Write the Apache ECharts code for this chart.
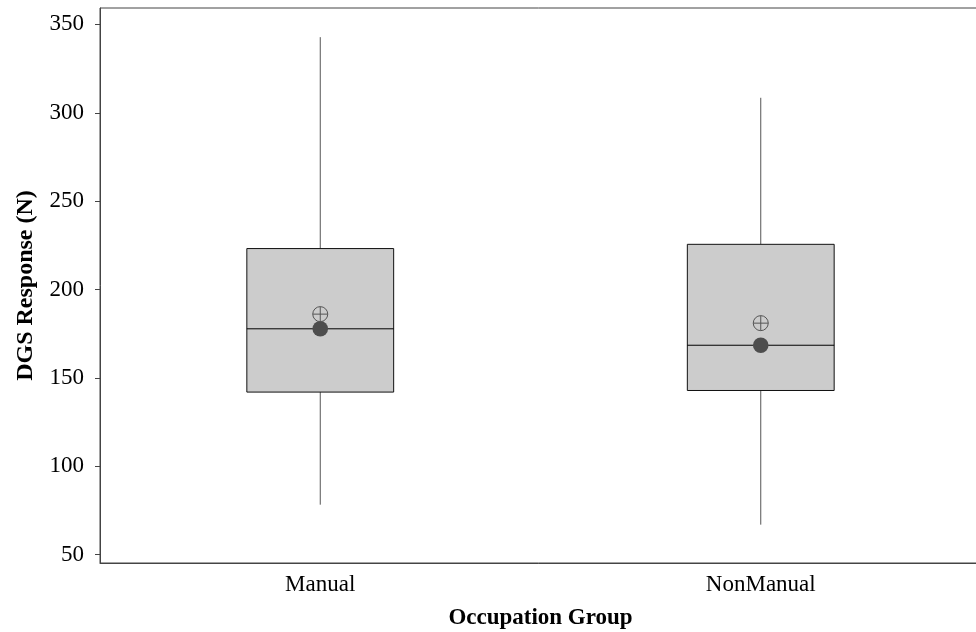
<!DOCTYPE html>
<html><head><meta charset="utf-8">
<script src="https://cdn.jsdelivr.net/npm/echarts@6/dist/echarts.min.js"></script>
<style>html,body{margin:0;padding:0;background:#fff}#c{width:976px;height:632px}</style>
</head><body><div id="c"></div>
<script>
const categories = ['Manual', 'NonManual'];
const mins    = [78.3, 67.0];
const q1s     = [142.0, 142.9];
const medians = [177.8, 168.5];
const q3s     = [223.2, 225.6];
const maxs    = [342.8, 308.5];
const means   = [186.1, 181.0];
const yTicks  = [50, 100, 150, 200, 250, 300, 350];

const data = categories.map((c, i) => [i, mins[i], q1s[i], medians[i], q3s[i], maxs[i], means[i]]);

const chart = echarts.init(document.getElementById('c'));
const font = 'Liberation Serif';
chart.setOption({
  animation: false,
  backgroundColor: '#fff',
  grid: { left: 100, top: 8, width: 881, height: 555, containLabel: false, outerBoundsMode: 'none',
          show: true, borderColor: '#444', borderWidth: 1, backgroundColor: 'transparent' },
  xAxis: {
    type: 'category', data: categories, boundaryGap: true,
    name: 'Occupation Group', nameLocation: 'middle', nameGap: 44,
    nameTextStyle: { fontFamily: font, fontSize: 23, fontWeight: 'bold', color: '#000' },
    axisLine: { lineStyle: { color: '#444', width: 1 } },
    axisTick: { alignWithLabel: true, length: 5, lineStyle: { color: '#444' } },
    axisLabel: { fontFamily: font, fontSize: 23, color: '#000', margin: 10 },
    splitLine: { show: false }
  },
  yAxis: {
    type: 'value', min: 45.3, max: 359.3,
    name: 'DGS Response (N)', nameLocation: 'middle', nameGap: 62,
    nameTextStyle: { fontFamily: font, fontSize: 24, fontWeight: 'bold', color: '#000' },
    axisLine: { show: true, lineStyle: { color: '#444', width: 1 } },
    axisTick: { show: true, length: 5, lineStyle: { color: '#444' }, customValues: yTicks },
    axisLabel: { fontFamily: font, fontSize: 23, color: '#000', margin: 16, customValues: yTicks },
    splitLine: { show: false }
  },
  series: [{
    type: 'custom',
    data: data,
    encode: { x: 0, y: [1, 2, 3, 4, 5, 6] },
    renderItem: function (params, api) {
      const idx = api.value(0);
      const band = api.size([1, 0])[0];
      const half = band * 0.3333 / 2;
      const pMin = api.coord([idx, api.value(1)]);
      const pQ1 = api.coord([idx, api.value(2)]);
      const pMed = api.coord([idx, api.value(3)]);
      const pQ3 = api.coord([idx, api.value(4)]);
      const pMax = api.coord([idx, api.value(5)]);
      const pMean = api.coord([idx, api.value(6)]);
      const cx = pMed[0];
      const r = 7.5;
      return {
        type: 'group',
        children: [
          { type: 'line', shape: { x1: cx, y1: pQ3[1], x2: cx, y2: pMax[1] }, style: { stroke: '#555', lineWidth: 1 } },
          { type: 'line', shape: { x1: cx, y1: pQ1[1], x2: cx, y2: pMin[1] }, style: { stroke: '#555', lineWidth: 1 } },
          { type: 'rect', shape: { x: cx - half, y: pQ3[1], width: 2 * half, height: pQ1[1] - pQ3[1] }, style: { fill: '#cccccc', stroke: '#111', lineWidth: 1 } },
          { type: 'line', shape: { x1: cx - half, y1: pMed[1], x2: cx + half, y2: pMed[1] }, style: { stroke: '#000', lineWidth: 1 } },
          { type: 'circle', shape: { cx: cx, cy: pMed[1], r: 7.8 }, style: { fill: '#4d4d4d', stroke: null } },
          { type: 'circle', shape: { cx: cx, cy: pMean[1], r: r }, style: { fill: 'none', stroke: '#555', lineWidth: 1 } },
          { type: 'line', shape: { x1: cx - r, y1: pMean[1], x2: cx + r, y2: pMean[1] }, style: { stroke: '#555', lineWidth: 1 } },
          { type: 'line', shape: { x1: cx, y1: pMean[1] - r, x2: cx, y2: pMean[1] + r }, style: { stroke: '#555', lineWidth: 1 } }
        ]
      };
    }
  }]
});
</script>
</body></html>
